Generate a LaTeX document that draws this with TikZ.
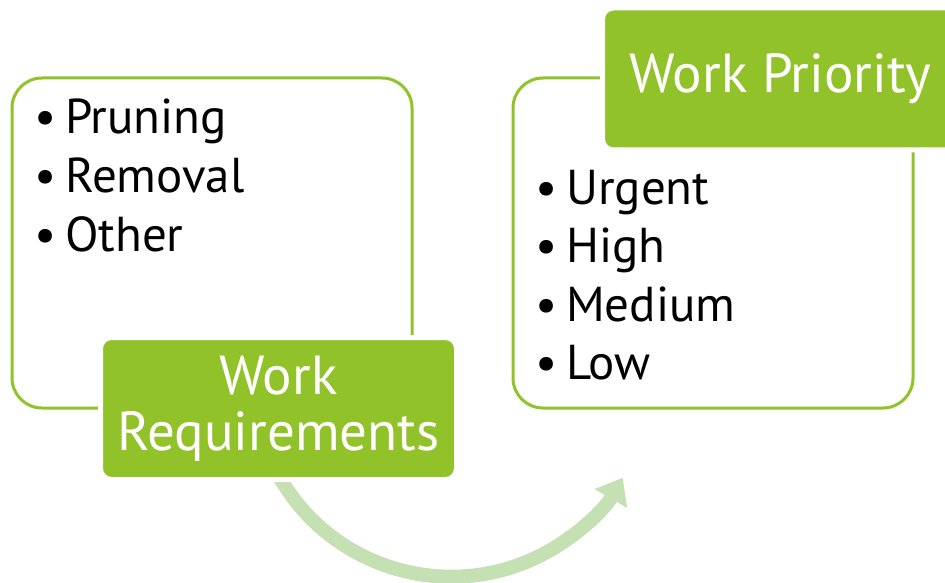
\documentclass[tikz,border=0pt]{standalone}
\usepackage{fontspec}
\setmainfont{PT Sans}
\usetikzlibrary{arrows.meta}
\definecolor{leaf}{RGB}{146,194,41}
\definecolor{paleleaf}{RGB}{197,224,178}
\tikzset{
  outline/.style={draw=leaf,line width=3pt,rounded corners=30pt,fill=white},
  tag/.style={fill=leaf,draw=white,line width=5pt,rounded corners=11pt,text=white,
    align=center,font=\fontsize{55}{56}\selectfont},
  item/.style={anchor=base west,inner sep=0pt,font=\fontsize{49}{58}\selectfont}
}
\newcommand{\bul}[1]{\makebox[31pt][l]{\textbullet}#1}
\begin{document}
\begin{tikzpicture}[x=1pt,y=-1pt]
  \useasboundingbox (0,0) rectangle (945,583);
  \clip (0,0) rectangle (945,583);
  % curved arrow from requirements to priority
  \coordinate (from) at (451.3,378.7);
  \draw[paleleaf,line width=14pt,-{Triangle[length=24pt,width=36pt]}]
    ([shift={(152:198)}]from) arc[start angle=152,end angle=30,radius=198];
  % outline boxes
  \node[outline,minimum width=400pt,minimum height=330pt] (reqbox) at (212,243) {};
  \node[outline,minimum width=400pt,minimum height=330pt] (priobox) at (713,243) {};
  % bullet items
  \foreach \t [count=\i] in {Pruning,Removal,Other}
    \node[item] (req\i) at (34,{134+58.5*(\i-1)}) {\bul{\t}};
  \foreach \t [count=\i] in {Urgent,High,Medium,Low}
    \node[item] (prio\i) at (535,{204+58.5*(\i-1)}) {\bul{\t}};
  % titles
  \node[tag,minimum width=356pt,minimum height=142pt] (reqtag) at (278.5,408.5) {Work\\Requirements};
  \node[tag,minimum width=356pt,minimum height=142pt] (priotag) at (780.5,79) {Work Priority};
\end{tikzpicture}
\end{document}
